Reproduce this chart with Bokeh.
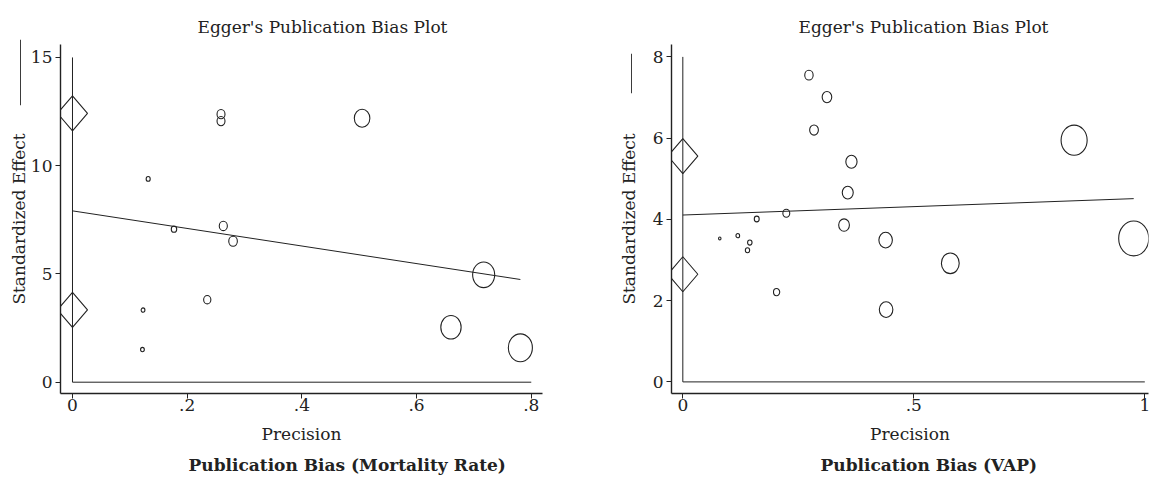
import numpy as np
from bokeh.plotting import figure
from bokeh.models import Range1d, FixedTicker, Title, Label
from bokeh.layouts import row
from bokeh.embed import file_html
from bokeh.resources import INLINE

FONT = "DejaVu Serif"
INK = "#222222"

# ---------------- data: Publication Bias (Mortality Rate) ----------------
mort_precision = [0.132, 0.259, 0.259, 0.177, 0.263, 0.280, 0.123, 0.122, 0.235,
                  0.505, 0.717, 0.660, 0.781]
mort_std_effect = [9.39, 12.38, 12.06, 7.07, 7.22, 6.51, 3.33, 1.51, 3.81,
                   12.19, 4.96, 2.54, 1.59]
mort_diamond_effect = [12.42, 3.34]
mort_x_ticks = [0, 0.2, 0.4, 0.6, 0.8]
mort_x_tick_labels = ["0", ".2", ".4", ".6", ".8"]
mort_y_ticks = [0, 5, 10, 15]

# ---------------- data: Publication Bias (VAP) ----------------
vap_precision = [0.273, 0.312, 0.284, 0.365, 0.357, 0.224, 0.160, 0.349, 0.439,
                 0.080, 0.119, 0.145, 0.140, 0.203, 0.440, 0.579, 0.847, 0.976]
vap_std_effect = [7.55, 7.01, 6.20, 5.42, 4.66, 4.15, 4.01, 3.86, 3.49,
                  3.53, 3.60, 3.43, 3.24, 2.21, 1.78, 2.92, 5.95, 3.53]
vap_diamond_effect = [5.56, 2.65]
vap_x_ticks = [0, 0.5, 1]
vap_x_tick_labels = ["0", ".5", "1"]
vap_y_ticks = [0, 2, 4, 6, 8]

title_text = "Egger's Publication Bias Plot"
x_label = "Precision"
y_label = "Standardized Effect"
mort_caption = "Publication Bias (Mortality Rate)"
vap_caption = "Publication Bias (VAP)"

FRAME_H = 349


def make_panel(prec, eff, dia, xt, xtl, yt, caption, xr, yr, fw, bl, br,
               ylab_standoff, title_off, cap_off, mark):
    p = figure(frame_width=fw, frame_height=FRAME_H,
               min_border_left=bl, min_border_right=br,
               min_border_top=44, min_border_bottom=89,
               x_range=Range1d(*xr), y_range=Range1d(*yr),
               output_backend="svg", toolbar_location=None, tools="")
    p.outline_line_color = None
    p.grid.visible = False
    p.background_fill_color = "white"
    p.border_fill_color = "white"

    px_x = fw / (xr[1] - xr[0])
    px_y = FRAME_H / (yr[1] - yr[0])

    # inner reference lines (x = 0 and y = 0)
    p.line([0, 0], [0, max(yt)], line_color=INK, line_width=1)
    p.line([0, max(xt)], [0, 0], line_color=INK, line_width=1)

    # Egger regression line
    prec_a = np.array(prec, dtype=float)
    eff_a = np.array(eff, dtype=float)
    slope, intercept = np.polyfit(prec_a, eff_a, 1)
    lx = np.array([0.0, prec_a.max()])
    p.line(lx, intercept + slope * lx, line_color=INK, line_width=1)

    # study circles, size proportional to precision
    p.ellipse(x=prec_a, y=eff_a, width=30.8 * prec_a, height=35.7 * prec_a,
              width_units="screen", height_units="screen",
              fill_color=None, line_color=INK, line_width=1.1)

    # diamonds at precision 0
    hw = 15.0 / px_x
    hh = 17.5 / px_y
    xs_d = [[-hw, 0, hw, 0] for _ in dia]
    ys_d = [[d, d + hh, d, d - hh] for d in dia]
    p.patches(xs_d, ys_d, fill_color=None, line_color=INK, line_width=1.1)

    # axes
    p.xaxis.ticker = FixedTicker(ticks=xt)
    p.xaxis.major_label_overrides = {t: l for t, l in zip(xt, xtl)}
    p.yaxis.ticker = FixedTicker(ticks=yt)
    for ax in (p.xaxis[0], p.yaxis[0]):
        ax.axis_line_color = INK
        ax.axis_line_width = 1.4
        ax.major_tick_line_color = INK
        ax.major_tick_line_width = 1
        ax.major_tick_out = 5
        ax.major_tick_in = 0
        ax.minor_tick_line_color = None
        ax.major_label_text_font = FONT
        ax.major_label_text_font_size = "17px"
        ax.major_label_text_color = INK
        ax.axis_label_text_font = FONT
        ax.axis_label_text_font_size = "17px"
        ax.axis_label_text_font_style = "normal"
        ax.axis_label_text_color = INK
    p.xaxis.axis_label = x_label
    p.xaxis.major_label_standoff = 0
    p.xaxis.axis_label_standoff = 10
    p.yaxis.axis_label = y_label
    p.yaxis.major_label_standoff = 3
    p.yaxis.axis_label_standoff = ylab_standoff

    # title
    p.title.text = title_text
    p.title.align = "left"
    p.title.offset = title_off
    p.title.text_font = FONT
    p.title.text_font_size = "17px"
    p.title.text_font_style = "normal"
    p.title.text_color = INK
    p.title.standoff = 15

    # caption
    p.add_layout(Title(text=caption, align="left", offset=cap_off,
                       text_font=FONT, text_font_size="17px",
                       text_font_style="bold", text_color=INK,
                       standoff=12), "below")

    # short vertical mark left of the y-axis title: a thin filled box,
    # placed in the (unclipped) right side panel, coordinates relative to it
    cx, cy, half = mark
    p.add_layout(Label(x=cx, y=cy, x_units="screen", y_units="screen",
                       text=" ", text_font="DejaVu Sans", text_font_size="3px",
                       text_align="center", text_baseline="middle",
                       background_fill_color="#333333", background_fill_alpha=1,
                       padding=dict(left=0, right=0, top=half, bottom=half)),
                 "right")
    return p


# left figure: frame x 60..542 ; right-panel origin at 542
p1 = make_panel(mort_precision, mort_std_effect, mort_diamond_effect,
                mort_x_ticks, mort_x_tick_labels, mort_y_ticks, mort_caption,
                (-0.0209, 0.8196), (-0.522, 15.598), 482, 60, 47,
                -1, 137, 128, (20 - 542, 321, 31))
# right figure (starts at page x 589): frame x 82..559 local ; right panel origin 559
p2 = make_panel(vap_precision, vap_std_effect, vap_diamond_effect,
                vap_x_ticks, vap_x_tick_labels, vap_y_ticks, vap_caption,
                (-0.0245, 1.0080), (-0.2855, 8.305), 477, 82, 2,
                11, 127, 149, (42 - 559, 320, 18))

layout = row(p1, p2)
open("out.html", "w").write(file_html(layout, INLINE))
